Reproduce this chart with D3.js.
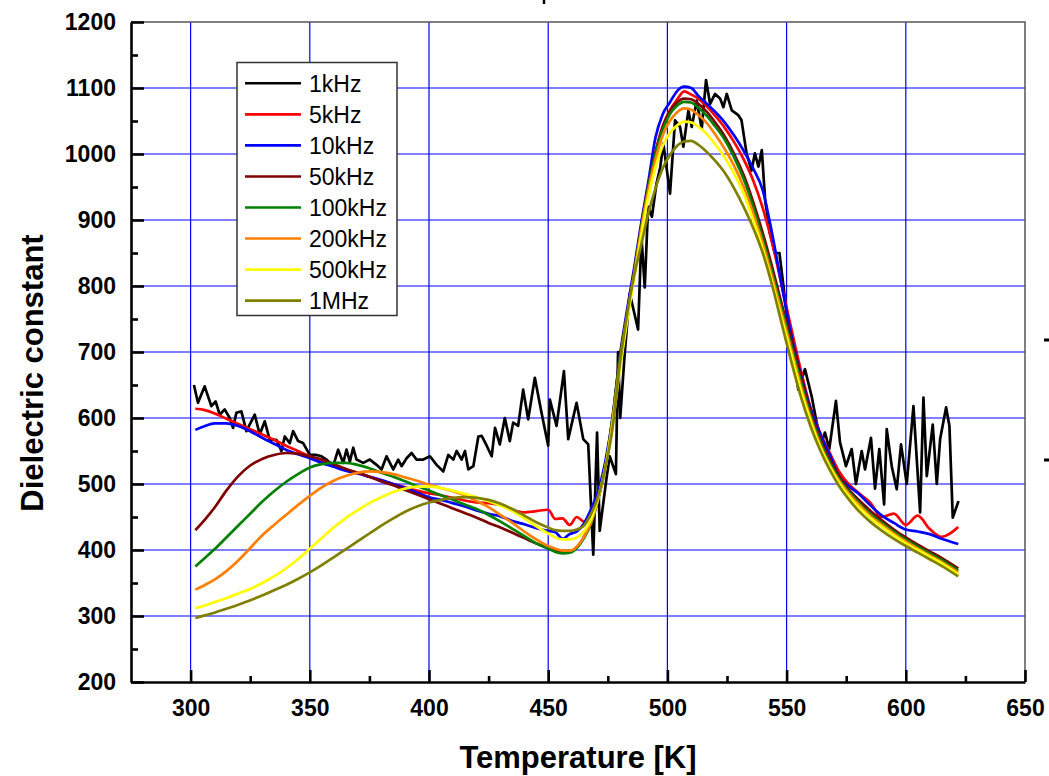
<!DOCTYPE html>
<html>
<head>
<meta charset="utf-8">
<script src="https://cdn.jsdelivr.net/npm/d3@7"></script>
<style>
body { margin: 0; background: #fff; }
svg { display: block; font-family: "Liberation Sans", Arial, sans-serif; }
</style>
</head>
<body>
<script>
//temperature grid shared by the smooth curves [K]
var temps = [302,306,310,315,320,325,330,335,340,345,350,355,360,365,370,375,380,385,390,395,400,405,410,415,420,425,430,435,440,445,450,
	453,456,459,462,465,468,471,474,477,480,483,486,489,492,495,498,501,504,507,510,513,516,
	520,524,528,532,536,540,544,548,552,556,560,564,568,572,576,580,
	585,590,595,600,605,610,615,622];

//dielectric constant, one array per frequency
var eps5k = [614,612,607,599,591,583,575,567,558,550,542,534,528,522,517,511,505,500,495,490,486,483,479,475,472,471,468,461,457,459,461,
	447,448,438,450,443,460,485,528,595,685,755,820,890,952,1003,1042,1066,1082,1095,1090,1084,1074,
	1058,1040,1018,992,960,918,865,800,735,672,616,578,548,519,500,487,
	472,450,455,438,452,432,420,435];
var eps10k = [582,588,592,592,588,580,570,561,552,545,539,532,526,520,516,511,506,500,494,487,480,476,471,466,460,455,451,444,439,433,429,
	427,417,424,428,440,462,490,535,600,692,762,826,895,958,1025,1060,1078,1095,1102,1100,1088,1078,
	1064,1048,1028,1005,978,945,878,800,725,665,615,577,545,512,497,486,
	468,452,441,431,428,424,417,409];
var eps50k = [430,446,464,490,512,528,538,544,547,546,542,537,530,523,517,511,504,498,491,484,477,470,463,456,449,441,434,426,418,410,403,
	399,397,398,404,420,442,478,527,600,690,755,820,890,952,1002,1040,1064,1078,1084,1083,1076,1066,
	1048,1027,1000,968,927,880,828,772,718,662,610,570,538,512,492,477,
	460,445,431,419,408,398,388,372];
var eps100k = [375,388,401,419,437,455,473,489,503,515,525,530,532,532,529,524,517,511,504,497,490,483,476,469,462,453,443,432,421,410,402,
	397,395,396,403,418,440,478,527,600,688,752,818,888,950,1000,1037,1060,1073,1079,1078,1070,1060,
	1042,1022,995,962,920,872,820,765,710,655,605,565,533,508,489,473,
	455,441,428,416,405,395,385,369];
var eps200k = [340,347,355,368,384,403,422,438,453,468,482,495,505,512,517,519,518,515,510,505,499,494,489,483,474,465,453,441,428,416,406,
	402,399,399,405,420,442,478,525,595,680,750,816,884,945,992,1028,1050,1063,1069,1067,1059,1049,
	1030,1008,982,950,910,864,813,758,703,648,600,560,529,505,486,470,
	452,438,425,413,402,392,382,366];
var eps500k = [312,316,321,327,334,341,350,360,372,386,402,418,434,448,460,471,480,488,493,496,496,494,490,485,480,474,467,459,448,436,425,
	419,416,416,419,428,447,480,525,590,672,745,810,876,935,980,1012,1032,1043,1049,1048,1041,1032,
	1015,995,970,940,900,856,805,750,696,642,596,557,527,502,482,466,
	449,435,422,410,400,390,380,363];
var eps1M = [297,301,305,311,317,324,331,339,347,356,366,377,389,401,413,425,437,448,458,466,472,476,479,480,479,476,470,462,452,442,434,
	430,429,429,431,437,455,482,525,585,680,755,815,862,910,948,978,998,1012,1019,1020,1014,1005,
	990,972,948,920,888,850,800,742,685,632,588,552,522,497,477,460,
	443,429,417,406,396,386,376,360];

//1kHz is noisy, it has its own temperature list
var temps1k = [301.4,303.1,305.9,308.7,310.5,312.2,314.3,316.4,317.8,319.2,321.3,323.4,326.9,329,331.1,333.2,336,338.1,339.5,341.6,
	343,345.1,347.2,350,352.8,354.9,357,359.8,361.9,364,365.4,366.8,368.2,369.6,372.4,375.2,378,380.1,382.2,385,
	387.1,388.5,390.6,392.7,394.8,397.6,400.4,403.2,406,408.1,410.2,411.6,413.7,415.1,416.5,418.6,420.7,422.1,424.2,426.3,
	427.7,429.7,431.8,433.9,435.3,437.4,439.5,441.6,444.4,447.2,450,450.7,453.5,456.6,458.4,461.9,464.7,466.8,468.9,470.5,
	471.6,474.4,475.8,478.4,479.3,480.2,482.1,484.2,487.7,489.1,490.5,491.9,493.5,495.4,497,498.3,501.1,503.2,505.3,506.7,
	508.8,510.2,512.3,514.4,516.2,517.9,520,522.1,523.5,524.9,527,529.7,531.1,533.2,535.3,536.7,538.2,539.6,541,543,
	545,547,549,551,553,554.9,557.7,560.5,562.6,564.7,566.1,567.9,570.7,572.4,574.9,577.3,579.1,581.5,582.9,585.4,
	587.1,588.9,590.9,592,594.1,596.2,598,600.4,603.2,606,607.4,608.8,611.3,613,614.4,616.9,618.3,619.7,622.1];
var eps1k = [650,623,648,618,625,605,613,600,585,608,610,580,605,575,595,567,567,550,572,562,
	580,565,562,544,544,542,537,527,552,532,552,534,555,537,532,537,529,522,542,522,
	537,527,539,547,537,537,542,529,519,544,537,550,537,550,522,527,572,573,558,542,
	585,560,600,565,593,588,643,598,661,608,558,628,588,671,568,623,568,560,393,578,
	429,507,542,515,700,600,698,789,734,875,798,920,905,955,980,1016,940,1051,1041,1011,
	1066,1041,1081,1038,1112,1076,1091,1084,1071,1091,1066,1059,1051,1001,975,1001,981,1006,930,880,
	850,850,790,730,690,643,674,633,593,563,578,553,626,563,527,553,500,550,522,570,
	493,553,469,583,527,492,560,500,618,457,631,512,590,500,568,616,588,449,474];

var freqLabels = ["1kHz","5kHz","10kHz","50kHz","100kHz","200kHz","500kHz","1MHz"];
var xMajor = [300,350,400,450,500,550,600,650];
var xMinor = [325,375,425,475,525,575,625];
var yMajor = [200,300,400,500,600,700,800,900,1000,1100,1200];
var yMinor = [250,350,450,550,650,750,850,950,1050,1150];

//line colours in legend order
var colors = ["#000000","#ff0000","#0000ff","#800000","#008000","#ff8000","#ffff00","#808000"];

window.onload = drawChart();

function drawChart(){

	//frame dimensions
	var width = 1049,
		height = 776;
	var left = 131, right = 1025, top = 22, bottom = 682;

	var svg = d3.select("body")
		.append("svg")
		.attr("width", width)
		.attr("height", height);

	var x = d3.scaleLinear().domain([275, 650]).range([left, right]);
	var y = d3.scaleLinear().domain([200, 1200]).range([bottom, top]);

	//blue grid lines
	svg.append("g").selectAll("line.vgrid")
		.data(xMajor.slice(0, -1))
		.enter().append("line")
		.attr("x1", function(d){ return x(d); })
		.attr("x2", function(d){ return x(d); })
		.attr("y1", top).attr("y2", bottom)
		.attr("stroke", "#0000ff").attr("stroke-width", 1.2);
	svg.append("g").selectAll("line.hgrid")
		.data(yMajor.slice(1, -1))
		.enter().append("line")
		.attr("x1", left).attr("x2", right)
		.attr("y1", function(d){ return y(d); })
		.attr("y2", function(d){ return y(d); })
		.attr("stroke", "#0000ff").attr("stroke-width", 1.2);

	//top and right border
	svg.append("path")
		.attr("d", "M" + left + "," + top + "H" + right + "V" + bottom)
		.attr("fill", "none")
		.attr("stroke", "#555")
		.attr("stroke-width", 1.5);

	//data lines
	var series = [{t: temps1k, v: eps1k}, {t: temps, v: eps5k}, {t: temps, v: eps10k}, {t: temps, v: eps50k},
		{t: temps, v: eps100k}, {t: temps, v: eps200k}, {t: temps, v: eps500k}, {t: temps, v: eps1M}];

	var plot = svg.append("g");
	series.forEach(function(s, i){
		var line = d3.line()
			.x(function(d, j){ return x(s.t[j]); })
			.y(function(d){ return y(d); })
			.curve(i === 0 ? d3.curveLinear : d3.curveMonotoneX);
		plot.append("path")
			.datum(s.v)
			.attr("d", line)
			.attr("fill", "none")
			.attr("stroke", colors[i])
			.attr("stroke-width", 2.7)
			.attr("stroke-linejoin", "round");
	});

	//axes, ticks pointing inward
	var fmt = d3.format("d");
	svg.append("g")
		.attr("transform", "translate(0," + bottom + ")")
		.call(d3.axisBottom(x).tickValues(xMajor).tickSize(-12).tickSizeOuter(0).tickPadding(18).tickFormat(fmt));
	svg.append("g")
		.attr("transform", "translate(0," + bottom + ")")
		.call(d3.axisBottom(x).tickValues(xMinor).tickSize(-6).tickSizeOuter(0).tickFormat(""))
		.select(".domain").remove();
	svg.append("g")
		.attr("transform", "translate(" + left + ",0)")
		.call(d3.axisLeft(y).tickValues(yMajor).tickSize(-13).tickSizeOuter(0).tickPadding(15).tickFormat(fmt));
	svg.append("g")
		.attr("transform", "translate(" + left + ",0)")
		.call(d3.axisLeft(y).tickValues(yMinor).tickSize(-7).tickSizeOuter(0).tickFormat(""))
		.select(".domain").remove();

	svg.selectAll(".domain, .tick line")
		.attr("stroke", "#000")
		.attr("stroke-width", 2.6);
	svg.selectAll(".tick text")
		.attr("fill", "#000")
		.attr("font-family", "'Liberation Sans', Arial, sans-serif")
		.attr("font-size", 23)
		.attr("font-weight", "bold");

	//axis titles
	svg.append("text")
		.attr("x", (left + right) / 2)
		.attr("y", 768)
		.attr("text-anchor", "middle")
		.attr("font-size", 31)
		.attr("font-weight", "bold")
		.text("Temperature [K]");
	svg.append("text")
		.attr("transform", "translate(43," + ((top + bottom) / 2 + 21) + ") rotate(-90)")
		.attr("text-anchor", "middle")
		.attr("font-size", 31)
		.attr("font-weight", "bold")
		.text("Dielectric constant");

	//legend
	var legend = svg.append("g");
	legend.append("rect")
		.attr("x", 237).attr("y", 62.5)
		.attr("width", 160).attr("height", 253)
		.attr("fill", "#fff")
		.attr("stroke", "#333")
		.attr("stroke-width", 1.5);
	var rows = legend.selectAll("g.row")
		.data(freqLabels)
		.enter().append("g")
		.attr("transform", function(d, i){ return "translate(0," + (83.3 + i * 31.05) + ")"; });
	rows.append("line")
		.attr("x1", 245).attr("x2", 301)
		.attr("stroke", function(d, i){ return colors[i]; })
		.attr("stroke-width", 2.6);
	rows.append("text")
		.attr("x", 309)
		.attr("dy", "0.36em")
		.attr("font-size", 23)
		.text(function(d){ return d; });

	//bits of the neighbouring panel cut off at the edges
	svg.append("line").attr("x1", 544).attr("x2", 544).attr("y1", 0).attr("y2", 4)
		.attr("stroke", "#000").attr("stroke-width", 2.5);
	svg.append("line").attr("x1", 1044).attr("x2", 1049).attr("y1", 340).attr("y2", 340)
		.attr("stroke", "#000").attr("stroke-width", 3);
	svg.append("line").attr("x1", 1044).attr("x2", 1049).attr("y1", 460).attr("y2", 460)
		.attr("stroke", "#000").attr("stroke-width", 3);
};
</script>
</body>
</html>
